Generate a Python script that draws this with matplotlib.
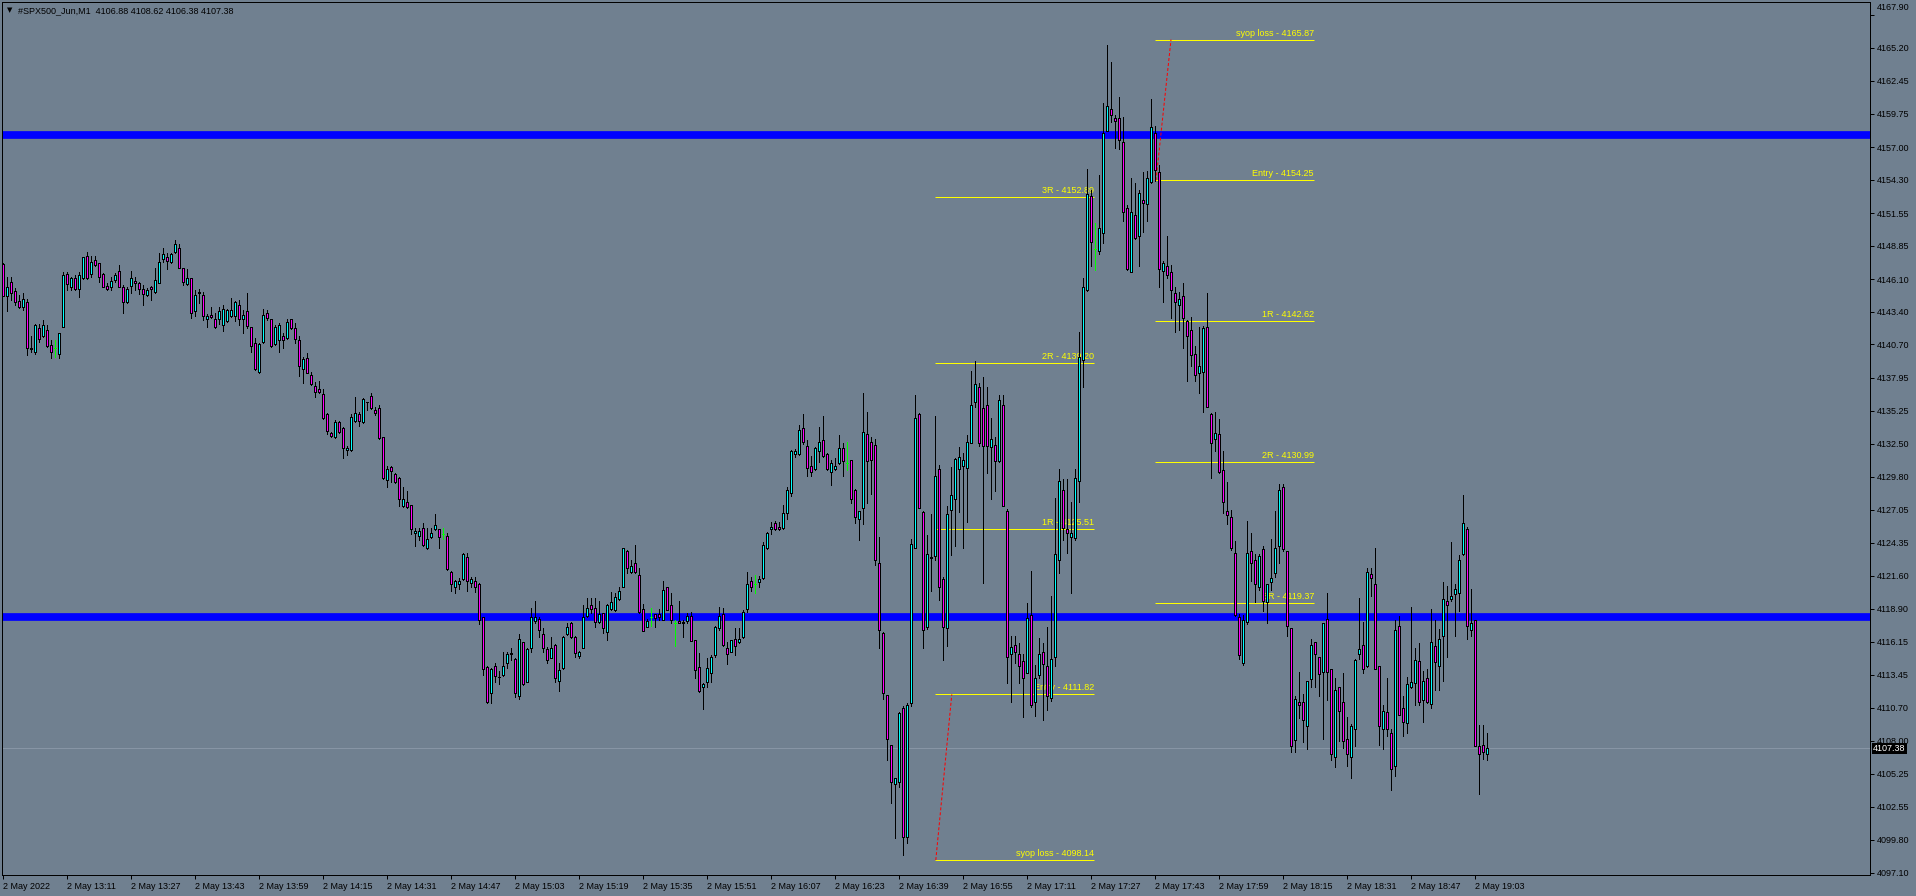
import matplotlib
matplotlib.use("Agg")
import matplotlib.pyplot as plt
import matplotlib.transforms as mtransforms

# ---------------- data ----------------
symbol_title = "#SPX500_Jun,M1  4106.88 4108.62 4106.38 4107.38"
start_time = "12:55"

opens = [
4147.32, 4144.70, 4145.89, 4145.14, 4144.29, 4143.77, 4144.21, 4140.38, 4140.05, 4142.03,
4141.40, 4141.90, 4140.63, 4140.38, 4139.89, 4142.12, 4146.49, 4145.42, 4146.16, 4145.25,
4146.16, 4148.00, 4146.49, 4147.67, 4147.40, 4146.49, 4145.53, 4145.47, 4146.00, 4146.74,
4145.42, 4144.21, 4145.53, 4145.94, 4145.78, 4145.25, 4144.76, 4145.42, 4145.00, 4145.80,
4147.73, 4147.89, 4147.48, 4148.36, 4148.64, 4146.99, 4145.67, 4146.16, 4143.44, 4145.03,
4144.76, 4142.78, 4143.13, 4142.78, 4142.78, 4142.31, 4142.64, 4143.05, 4143.08, 4143.93,
4142.78, 4143.44, 4142.12, 4140.85, 4138.40, 4140.88, 4143.27, 4142.78, 4140.71, 4141.07,
4141.40, 4141.21, 4142.78, 4142.06, 4141.04, 4138.65, 4139.58, 4138.15, 4137.27, 4137.00,
4136.61, 4134.96, 4133.39, 4133.04, 4134.30, 4133.78, 4131.96, 4131.99, 4134.41, 4134.96,
4134.30, 4135.98, 4136.45, 4135.27, 4135.43, 4133.04, 4129.52, 4130.62, 4130.01, 4129.65,
4127.37, 4127.70, 4127.42, 4125.11, 4124.89, 4125.53, 4123.88, 4124.78, 4125.44, 4125.44,
4125.03, 4124.89, 4121.92, 4120.66, 4120.93, 4121.37, 4123.13, 4121.00, 4121.18, 4120.90,
4118.18, 4114.05, 4111.91, 4114.17, 4113.29, 4113.45, 4114.38, 4115.21, 4114.71, 4111.69,
4116.12, 4112.87, 4115.62, 4117.91, 4118.02, 4116.81, 4115.54, 4114.85, 4115.90, 4112.93,
4113.97, 4116.81, 4117.69, 4116.53, 4114.99, 4115.62, 4118.29, 4119.17, 4118.98, 4117.82,
4118.51, 4116.94, 4118.90, 4118.79, 4119.67, 4120.66, 4123.63, 4121.90, 4122.64, 4121.67,
4118.90, 4117.41, 4118.18, 4118.43, 4118.43, 4117.96, 4120.66, 4119.20, 4117.74, 4117.91,
4117.76, 4117.91, 4118.32, 4116.31, 4114.11, 4112.40, 4112.87, 4113.61, 4115.07, 4117.27,
4118.43, 4115.62, 4115.35, 4116.36, 4116.12, 4116.53, 4118.90, 4121.18, 4120.90, 4121.13,
4121.40, 4123.87, 4125.44, 4125.94, 4125.61, 4125.53, 4126.77, 4128.47, 4131.66, 4131.66,
4133.84, 4132.35, 4130.67, 4130.40, 4131.88, 4132.82, 4131.66, 4130.20, 4130.40, 4130.89,
4132.13, 4130.89, 4131.17, 4128.69, 4126.27, 4127.18, 4133.29, 4132.68, 4132.40, 4122.64,
4116.92, 4111.77, 4107.65, 4104.40, 4104.62, 4110.67, 4100.02, 4111.14, 4123.87, 4134.96,
4126.90, 4117.41, 4123.10, 4123.24, 4130.40, 4121.37, 4117.27, 4127.04, 4127.92, 4130.40,
4130.67, 4130.48, 4132.54, 4135.93, 4137.16, 4135.43, 4135.71, 4132.27, 4132.40, 4131.11,
4135.73, 4126.96, 4115.16, 4115.90, 4115.16, 4114.61, 4113.62, 4118.40, 4111.22, 4113.39,
4115.35, 4114.17, 4111.48, 4114.87, 4122.90, 4128.68, 4125.48, 4124.82, 4124.74, 4129.42,
4139.41, 4145.20, 4152.93, 4148.62, 4148.40, 4149.88, 4158.35, 4160.12, 4159.38, 4159.38,
4157.43, 4151.94, 4146.67, 4151.39, 4149.62, 4152.64, 4152.31, 4154.15, 4158.17, 4154.96,
4146.78, 4147.15, 4146.67, 4144.94, 4143.98, 4144.72, 4142.62, 4141.88, 4139.93, 4138.38,
4138.45, 4142.14, 4134.95, 4132.93, 4133.29, 4130.34, 4126.95, 4126.48, 4123.45, 4118.22,
4114.43, 4117.80, 4123.66, 4122.88, 4120.65, 4123.81, 4119.41, 4121.11, 4121.81, 4124.04,
4128.90, 4123.66, 4117.29, 4108.09, 4111.15, 4111.15, 4109.19, 4113.12, 4116.13, 4114.92,
4113.67, 4118.02, 4113.91, 4106.64, 4112.40, 4111.15, 4108.12, 4106.64, 4108.95, 4115.15,
4115.87, 4114.14, 4121.72, 4120.91, 4114.14, 4108.95, 4110.34, 4108.61, 4105.89, 4117.44,
4110.66, 4109.42, 4112.43, 4112.75, 4114.54, 4111.39, 4113.18, 4111.01, 4115.84, 4114.14,
4116.66, 4119.49, 4119.70, 4120.07, 4120.19, 4123.37, 4125.48, 4117.15, 4117.96, 4107.54,
4107.68, 4106.88]

highs = [
4147.40, 4146.30, 4146.24, 4145.33, 4144.78, 4144.92, 4144.43, 4141.40, 4142.36, 4142.36,
4142.72, 4142.31, 4141.07, 4141.07, 4141.68, 4146.71, 4146.71, 4146.30, 4146.44, 4146.71,
4147.95, 4148.36, 4148.00, 4148.00, 4147.45, 4146.57, 4145.80, 4146.30, 4146.63, 4147.26,
4145.61, 4145.47, 4146.74, 4146.30, 4145.89, 4145.61, 4145.33, 4145.53, 4146.99, 4148.22,
4148.64, 4148.28, 4148.22, 4149.32, 4148.99, 4146.99, 4146.90, 4146.16, 4145.20, 4145.25,
4145.06, 4143.19, 4143.82, 4143.27, 4143.82, 4143.96, 4143.60, 4144.51, 4144.29, 4144.37,
4143.55, 4144.92, 4142.17, 4141.21, 4140.80, 4143.60, 4143.55, 4142.78, 4142.31, 4142.45,
4141.62, 4142.80, 4142.78, 4142.45, 4141.40, 4139.70, 4139.97, 4138.46, 4137.63, 4137.71,
4137.00, 4135.07, 4133.50, 4134.47, 4134.41, 4133.92, 4132.32, 4134.96, 4136.39, 4135.16,
4136.26, 4135.98, 4136.67, 4135.57, 4135.71, 4133.09, 4130.67, 4130.67, 4130.12, 4129.74,
4128.97, 4128.64, 4127.42, 4125.53, 4125.53, 4125.94, 4125.53, 4125.58, 4126.68, 4125.50,
4125.58, 4125.11, 4121.98, 4121.26, 4121.40, 4123.46, 4123.52, 4121.54, 4121.48, 4120.99,
4118.24, 4114.17, 4113.97, 4114.38, 4113.78, 4115.35, 4115.35, 4115.62, 4114.80, 4116.81,
4116.17, 4115.62, 4118.92, 4119.53, 4118.18, 4117.27, 4115.76, 4116.53, 4115.95, 4114.38,
4116.64, 4117.74, 4117.77, 4116.64, 4115.43, 4119.20, 4119.75, 4119.75, 4119.75, 4119.53,
4118.57, 4119.25, 4120.24, 4120.16, 4120.66, 4123.93, 4123.74, 4122.91, 4124.18, 4122.23,
4119.28, 4118.02, 4118.95, 4118.43, 4118.87, 4121.18, 4120.71, 4120.16, 4117.96, 4119.53,
4117.96, 4118.57, 4118.65, 4116.31, 4115.21, 4112.73, 4114.80, 4115.07, 4117.47, 4119.01,
4118.95, 4116.17, 4116.31, 4117.27, 4117.27, 4118.79, 4121.90, 4121.48, 4121.67, 4121.59,
4124.37, 4125.22, 4126.08, 4126.13, 4126.08, 4127.45, 4128.91, 4131.99, 4132.05, 4134.03,
4134.96, 4132.82, 4131.50, 4132.27, 4133.92, 4134.80, 4131.77, 4131.17, 4131.30, 4133.23,
4132.54, 4132.68, 4131.17, 4128.75, 4126.98, 4136.67, 4135.10, 4133.09, 4132.87, 4124.84,
4116.97, 4111.77, 4107.65, 4104.89, 4110.40, 4110.86, 4111.08, 4124.62, 4136.53, 4135.02,
4126.96, 4124.98, 4126.68, 4134.80, 4130.75, 4121.48, 4127.37, 4130.62, 4131.30, 4132.27,
4131.72, 4133.23, 4138.50, 4139.30, 4137.49, 4138.00, 4137.22, 4134.61, 4133.09, 4136.54,
4136.54, 4127.14, 4116.64, 4116.64, 4116.09, 4115.16, 4119.40, 4121.98, 4114.24, 4116.45,
4116.09, 4117.37, 4119.95, 4128.06, 4130.45, 4129.61, 4129.61, 4127.69, 4130.45, 4141.69,
4146.19, 4155.22, 4153.49, 4150.72, 4154.67, 4160.67, 4165.39, 4163.99, 4159.64, 4161.15,
4159.46, 4152.20, 4154.48, 4154.04, 4153.49, 4154.96, 4155.04, 4160.93, 4158.72, 4155.51,
4147.59, 4149.62, 4147.22, 4145.45, 4145.01, 4145.75, 4142.73, 4142.98, 4140.59, 4142.14,
4142.25, 4144.94, 4135.06, 4135.14, 4134.51, 4131.93, 4129.35, 4127.03, 4124.45, 4118.48,
4118.40, 4126.14, 4125.11, 4123.37, 4123.37, 4124.04, 4120.91, 4124.62, 4126.93, 4129.16,
4129.16, 4123.66, 4117.29, 4111.68, 4113.67, 4111.88, 4112.89, 4116.42, 4116.13, 4114.92,
4117.73, 4120.19, 4113.91, 4113.18, 4112.46, 4113.62, 4109.99, 4109.36, 4114.77, 4119.78,
4117.76, 4122.21, 4122.21, 4123.89, 4114.14, 4110.92, 4113.18, 4108.98, 4117.96, 4118.25,
4111.65, 4113.24, 4119.03, 4115.64, 4116.08, 4113.76, 4113.91, 4118.83, 4117.96, 4117.23,
4121.06, 4120.77, 4124.41, 4120.94, 4123.31, 4128.29, 4125.63, 4120.48, 4117.96, 4109.27,
4109.33, 4108.62]

lows = [
4144.70, 4143.49, 4144.37, 4143.96, 4143.68, 4143.55, 4139.83, 4140.11, 4139.92, 4140.93,
4141.35, 4140.52, 4139.61, 4139.70, 4139.61, 4142.12, 4145.20, 4145.20, 4145.20, 4144.65,
4146.08, 4146.08, 4146.30, 4147.18, 4145.89, 4145.42, 4145.20, 4145.20, 4145.89, 4145.42,
4143.27, 4144.10, 4144.92, 4145.20, 4144.87, 4143.93, 4144.70, 4144.37, 4144.98, 4145.80,
4147.54, 4146.90, 4147.40, 4148.28, 4146.99, 4145.61, 4145.61, 4142.91, 4143.05, 4144.15,
4142.72, 4142.12, 4142.86, 4142.09, 4142.36, 4141.84, 4142.58, 4143.00, 4142.67, 4142.31,
4141.62, 4142.03, 4140.05, 4138.59, 4138.37, 4140.85, 4142.72, 4140.52, 4140.66, 4140.11,
4140.38, 4141.15, 4141.98, 4140.80, 4138.13, 4137.49, 4138.32, 4137.36, 4136.39, 4136.67,
4134.52, 4133.31, 4133.09, 4132.95, 4133.42, 4131.36, 4131.55, 4131.94, 4134.33, 4133.97,
4134.25, 4135.29, 4135.38, 4134.88, 4132.87, 4129.60, 4128.96, 4129.38, 4129.30, 4127.37,
4127.31, 4127.18, 4125.06, 4124.10, 4124.56, 4124.07, 4123.79, 4124.70, 4125.39, 4123.88,
4124.62, 4122.09, 4120.38, 4120.16, 4120.49, 4121.26, 4120.38, 4120.71, 4120.30, 4117.63,
4113.42, 4111.14, 4111.14, 4112.87, 4112.68, 4113.34, 4113.97, 4114.66, 4111.63, 4111.41,
4112.60, 4112.87, 4115.35, 4117.69, 4116.59, 4115.35, 4114.38, 4114.80, 4112.87, 4112.13,
4113.89, 4116.72, 4116.45, 4114.88, 4114.80, 4115.62, 4118.18, 4118.51, 4117.41, 4117.74,
4116.86, 4116.31, 4118.79, 4118.73, 4119.61, 4120.66, 4121.87, 4121.87, 4121.81, 4118.51,
4117.08, 4117.41, 4117.47, 4117.41, 4117.96, 4117.96, 4118.79, 4117.69, 4115.84, 4117.69,
4116.59, 4117.69, 4116.26, 4113.15, 4112.05, 4110.61, 4112.40, 4112.87, 4114.88, 4117.14,
4115.84, 4114.33, 4115.35, 4115.07, 4116.03, 4116.45, 4118.65, 4120.38, 4120.16, 4120.66,
4121.32, 4123.79, 4125.06, 4125.39, 4125.39, 4125.44, 4126.27, 4128.20, 4131.39, 4131.58,
4132.49, 4129.87, 4129.87, 4130.34, 4131.03, 4131.39, 4130.34, 4129.10, 4130.34, 4130.84,
4129.85, 4130.34, 4127.65, 4125.99, 4124.56, 4125.88, 4127.65, 4128.36, 4122.50, 4115.62,
4111.41, 4106.40, 4102.88, 4099.94, 4104.20, 4098.56, 4099.58, 4110.86, 4123.87, 4127.18,
4115.62, 4117.19, 4120.38, 4122.91, 4119.61, 4114.66, 4115.81, 4123.33, 4124.07, 4126.90,
4123.87, 4126.08, 4132.54, 4135.57, 4132.32, 4120.99, 4130.12, 4127.92, 4128.64, 4131.00,
4127.40, 4112.77, 4111.18, 4114.43, 4112.77, 4109.93, 4113.62, 4110.74, 4110.00, 4113.14,
4109.71, 4110.56, 4111.29, 4114.13, 4121.87, 4124.56, 4123.45, 4120.21, 4124.56, 4127.69,
4137.20, 4145.08, 4147.15, 4146.85, 4148.14, 4149.07, 4158.35, 4159.09, 4156.88, 4156.80,
4150.91, 4146.85, 4146.67, 4149.43, 4147.15, 4149.99, 4150.91, 4154.04, 4154.22, 4145.45,
4144.20, 4146.19, 4142.87, 4141.69, 4141.88, 4140.41, 4137.71, 4138.93, 4137.71, 4136.72,
4135.14, 4135.50, 4129.72, 4131.93, 4130.09, 4126.77, 4125.92, 4123.71, 4118.29, 4114.72,
4114.24, 4117.60, 4121.14, 4119.41, 4120.42, 4118.68, 4117.67, 4120.42, 4121.52, 4122.65,
4123.66, 4116.66, 4107.10, 4107.10, 4109.85, 4107.91, 4107.33, 4112.46, 4112.46, 4111.68,
4108.12, 4111.39, 4106.38, 4105.86, 4107.97, 4107.39, 4105.89, 4104.93, 4107.54, 4114.77,
4113.62, 4114.11, 4119.90, 4113.88, 4107.62, 4107.33, 4108.40, 4103.92, 4105.08, 4110.14,
4108.40, 4108.61, 4112.37, 4110.92, 4110.92, 4109.53, 4111.10, 4110.72, 4112.17, 4112.17,
4112.89, 4114.92, 4119.55, 4116.60, 4118.68, 4123.31, 4116.37, 4116.66, 4107.59, 4103.63,
4106.52, 4106.38]

closes = [
4144.73, 4145.42, 4144.92, 4144.23, 4143.77, 4144.43, 4140.38, 4140.30, 4142.28, 4141.13,
4142.28, 4140.60, 4140.11, 4140.38, 4141.62, 4146.41, 4145.67, 4146.16, 4145.25, 4146.41,
4147.89, 4146.16, 4147.48, 4147.23, 4146.27, 4145.47, 4145.31, 4145.91, 4146.44, 4145.47,
4144.21, 4145.25, 4146.16, 4145.75, 4145.25, 4144.84, 4145.20, 4145.25, 4145.99, 4147.48,
4148.14, 4147.62, 4148.17, 4148.97, 4146.99, 4145.89, 4146.16, 4143.27, 4144.76, 4144.92,
4143.05, 4143.02, 4142.94, 4142.12, 4143.46, 4143.60, 4143.55, 4143.55, 4144.18, 4142.78,
4143.13, 4142.25, 4140.60, 4138.65, 4140.71, 4143.13, 4142.86, 4140.58, 4142.12, 4142.31,
4141.04, 4142.53, 4142.03, 4141.18, 4138.92, 4139.47, 4138.37, 4137.44, 4136.75, 4136.75,
4134.61, 4133.59, 4133.15, 4134.30, 4133.50, 4132.13, 4132.15, 4134.74, 4135.07, 4134.41,
4136.17, 4135.93, 4135.43, 4135.07, 4133.01, 4129.65, 4130.42, 4130.26, 4129.38, 4127.92,
4127.92, 4127.26, 4125.44, 4125.28, 4125.28, 4124.12, 4124.62, 4125.11, 4125.80, 4124.78,
4125.03, 4122.14, 4120.93, 4121.18, 4121.18, 4123.41, 4121.18, 4121.37, 4120.66, 4117.96,
4113.89, 4111.19, 4113.89, 4113.37, 4113.24, 4114.19, 4115.15, 4115.15, 4111.91, 4116.36,
4112.65, 4115.54, 4118.18, 4118.18, 4117.14, 4115.68, 4114.66, 4115.62, 4113.15, 4113.81,
4116.56, 4117.41, 4116.59, 4115.27, 4115.35, 4118.24, 4118.98, 4118.90, 4117.77, 4118.46,
4117.27, 4119.17, 4119.42, 4119.89, 4120.38, 4123.87, 4122.23, 4122.42, 4121.90, 4118.65,
4117.08, 4117.91, 4118.18, 4118.15, 4118.18, 4120.44, 4118.79, 4117.96, 4117.74, 4117.74,
4117.72, 4118.32, 4116.26, 4113.83, 4112.13, 4112.68, 4113.97, 4114.93, 4117.41, 4118.29,
4115.90, 4115.13, 4116.31, 4115.84, 4116.36, 4118.65, 4120.90, 4120.66, 4120.90, 4121.37,
4124.15, 4125.11, 4125.66, 4125.47, 4125.44, 4126.77, 4128.69, 4131.94, 4131.91, 4133.62,
4132.62, 4130.48, 4130.15, 4132.13, 4132.62, 4131.50, 4130.40, 4130.89, 4130.67, 4132.13,
4131.11, 4130.89, 4127.92, 4126.43, 4126.96, 4133.51, 4131.11, 4131.17, 4122.91, 4117.14,
4111.96, 4108.11, 4104.62, 4104.89, 4110.26, 4100.08, 4110.92, 4124.21, 4134.61, 4127.18,
4117.14, 4123.41, 4123.15, 4129.87, 4120.66, 4117.41, 4126.68, 4128.25, 4131.22, 4131.44,
4131.14, 4132.65, 4135.71, 4137.41, 4132.54, 4132.32, 4132.32, 4132.87, 4131.11, 4136.12,
4127.40, 4114.87, 4115.72, 4115.35, 4114.13, 4113.14, 4118.11, 4110.92, 4113.21, 4115.16,
4114.35, 4111.66, 4114.72, 4123.38, 4129.42, 4125.55, 4125.11, 4125.11, 4129.64, 4139.67,
4145.45, 4153.12, 4149.14, 4148.62, 4150.35, 4158.17, 4160.38, 4159.64, 4159.12, 4157.61,
4151.64, 4146.93, 4151.64, 4149.51, 4153.19, 4152.38, 4154.41, 4158.65, 4155.14, 4146.93,
4147.41, 4146.41, 4145.20, 4144.20, 4144.46, 4142.91, 4141.40, 4139.85, 4138.19, 4138.93,
4142.06, 4135.50, 4132.56, 4133.40, 4130.20, 4127.69, 4126.66, 4123.90, 4118.40, 4115.05,
4117.93, 4123.45, 4122.65, 4120.91, 4123.26, 4119.49, 4120.91, 4121.40, 4123.89, 4128.67,
4123.83, 4117.47, 4107.59, 4111.44, 4110.92, 4109.71, 4112.89, 4115.87, 4115.12, 4113.47,
4117.73, 4113.67, 4106.87, 4112.17, 4110.43, 4107.97, 4106.87, 4109.19, 4114.63, 4115.55,
4113.91, 4121.92, 4121.43, 4113.91, 4109.19, 4110.43, 4108.95, 4105.65, 4117.15, 4110.14,
4109.56, 4112.66, 4112.83, 4114.63, 4111.15, 4112.89, 4111.21, 4116.13, 4114.48, 4116.36,
4119.70, 4119.20, 4119.93, 4120.48, 4122.88, 4125.98, 4117.44, 4117.73, 4107.59, 4106.87,
4107.10, 4107.38]

time_labels = ['2 May 2022', '2 May 13:11', '2 May 13:27', '2 May 13:43', '2 May 13:59',
               '2 May 14:15', '2 May 14:31', '2 May 14:47', '2 May 15:03', '2 May 15:19',
               '2 May 15:35', '2 May 15:51', '2 May 16:07', '2 May 16:23', '2 May 16:39',
               '2 May 16:55', '2 May 17:11', '2 May 17:27', '2 May 17:43', '2 May 17:59',
               '2 May 18:15', '2 May 18:31', '2 May 18:47', '2 May 19:03']

price_ticks = [4097.10, 4099.80, 4102.55, 4105.25, 4108.00, 4110.70, 4113.45, 4116.15,
               4118.90, 4121.60, 4124.35, 4127.05, 4129.80, 4132.50, 4135.25, 4137.95,
               4140.70, 4143.40, 4146.10, 4148.85, 4151.55, 4154.30, 4157.00, 4159.75,
               4162.45, 4165.20, 4167.90]

support_resistance = [4157.96, 4118.19]
bid_price = 4107.38

long_names = ['syop loss', 'Entry', '1R', '2R', '3R']
long_levels = [4098.14, 4111.82, 4125.51, 4139.20, 4152.89]
long_span = [233.0, 272.75]           # bar index range of the long-trade levels
long_risk_line_x = [233.2, 237.2]
long_risk_line_y = [4098.14, 4111.82]

short_names = ['syop loss', 'Entry', '1R', '2R', '3R']
short_levels = [4165.87, 4154.25, 4142.62, 4130.99, 4119.37]
short_span = [288.0, 327.75]
short_risk_line_x = [288.25, 292.0]
short_risk_line_y = [4154.25, 4165.87]

# ---------------- style ----------------
BG = '#708090'
BULL = '#00ffff'
BEAR = '#ff00ff'
DOJI = '#00ff00'
PX = 0.72  # one pixel in points at dpi 100
FONT = 'Liberation Sans'
FS = 6.5

W, H = 1916, 896
fig = plt.figure(figsize=(W / 100, H / 100), dpi=100, facecolor=BG)
ax_left, ax_right, ax_top, ax_bottom = 2, 1870, 2, 875
ax = fig.add_axes([ax_left / W, 1 - ax_bottom / H, (ax_right - ax_left) / W, (ax_bottom - ax_top) / H])
ax.set_facecolor(BG)

n = min(len(opens), len(highs), len(lows), len(closes))
xs = list(range(n))

# background objects
for lvl in support_resistance:
    ax.axhline(lvl, color='#0000ff', lw=7.7 * PX, zorder=1, solid_capstyle='butt')
ax.axhline(bid_price, color='#8795a5', lw=PX, zorder=1)

trans_off = mtransforms.offset_copy(ax.transData, fig=fig, x=0, y=2, units='dots')
for names, levels, span in [(long_names, long_levels, long_span), (short_names, short_levels, short_span)]:
    for name, lvl in zip(names, levels):
        ax.plot(span, [lvl, lvl], color='#ffff00', lw=PX, zorder=2, solid_capstyle='butt')
        ax.text(span[1], lvl, f'{name} - {lvl:.2f}', transform=trans_off, ha='right', va='bottom',
                color='#ffff00', fontsize=FS, family=FONT, zorder=2)

for lx, ly in [(long_risk_line_x, long_risk_line_y), (short_risk_line_x, short_risk_line_y)]:
    ax.plot(lx, ly, color='#ff0000', lw=PX, dashes=(3, 2), zorder=2)

# candles
for i in xs:
    o, h, l, c = opens[i], highs[i], lows[i], closes[i]
    if o == c:
        ax.vlines(i, l, h, color=DOJI, lw=PX, zorder=3, antialiased=False)
        ax.hlines(o, i - 0.3, i + 0.3, color=DOJI, lw=PX, zorder=3, antialiased=False)
        continue
    ax.vlines(i, l, h, color='black', lw=PX, zorder=3, antialiased=False)
    col = BULL if c > o else BEAR
    ax.bar(i, abs(c - o), bottom=min(o, c), width=0.55, color=col, edgecolor='black',
           linewidth=PX, zorder=4, antialiased=False)

ax.set_xlim(-0.25, (ax_right - 3) / 4)
ax.set_ylim(4096.91, 4168.97)

# time axis
def bar_index(label):
    if ':' not in label:
        return 0
    hh, mm = label.split()[-1].split(':')
    sh, sm = start_time.split(':')
    return (int(hh) * 60 + int(mm)) - (int(sh) * 60 + int(sm))

ax.set_xticks([bar_index(t) for t in time_labels])
ax.set_xticklabels(time_labels, family=FONT, fontsize=FS)
for lbl in ax.get_xticklabels():
    lbl.set_ha('left')
ax.tick_params(axis='x', direction='out', length=3, width=PX, pad=2, colors='black')

ax.yaxis.tick_right()
ax.set_yticks(price_ticks)
ax.set_yticklabels([f'{p:.2f}' for p in price_ticks], family=FONT, fontsize=FS)
ax.tick_params(axis='y', direction='out', length=3, width=PX, pad=2, colors='black')
# the top-most price label sits at the very top of the window, as in the terminal
top_lbl = ax.get_yticklabels()[-1]
top_lbl.set_transform(top_lbl.get_transform() + mtransforms.ScaledTranslation(0, 8 / 100, fig.dpi_scale_trans))

for s in ax.spines.values():
    s.set_color('black')
    s.set_linewidth(PX)

# current price box
tb = mtransforms.blended_transform_factory(ax.transAxes, ax.transData)
ax.text(1.0 + 3 / (ax_right - ax_left), bid_price, f'{bid_price:.2f}', transform=tb, ha='left', va='center',
        color='white', fontsize=FS, family=FONT, zorder=10, clip_on=False,
        bbox=dict(boxstyle='square,pad=0.12', fc='black', ec='none'))

# title
fig.text(7 / W, 1 - 10.5 / H, '\u25bc', family='DejaVu Sans', fontsize=5, va='center', ha='left', color='black')
fig.text(18 / W, 1 - 10.5 / H, symbol_title, family=FONT, fontsize=FS, va='center', ha='left', color='black')

fig.savefig('out.png', dpi=100, facecolor=BG)
